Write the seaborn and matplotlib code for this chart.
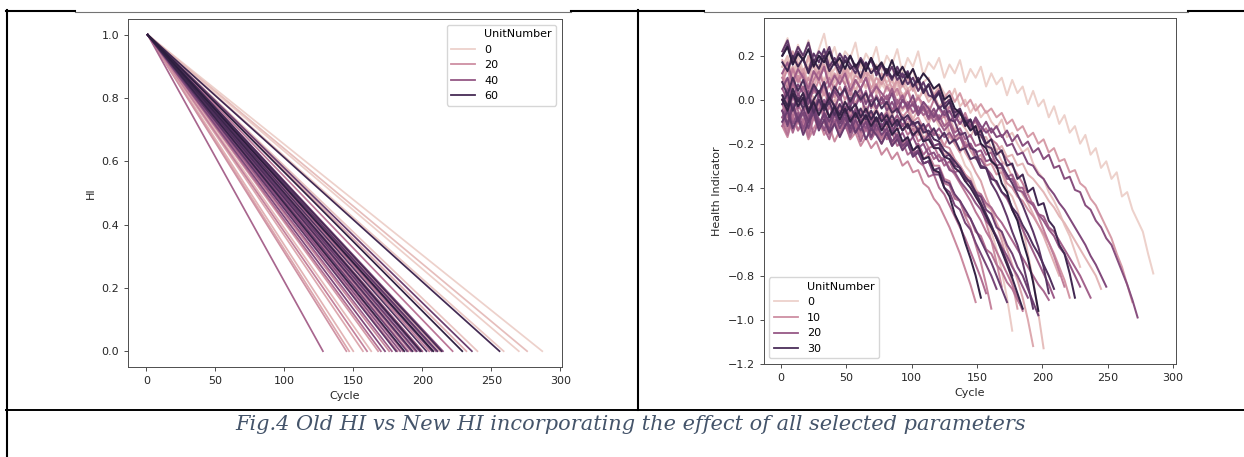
import numpy as np
import pandas as pd
import seaborn as sns
import matplotlib.pyplot as plt
from matplotlib.lines import Line2D
from matplotlib.colors import Normalize

# %% Data

# Old HI: each unit falls linearly from 1 (first cycle) to 0 (last cycle)
old_first_cycle = 1
old_hi_start = 1.0
old_hi_end = 0.0
old_units = [0, 1, 3, 4, 6, 7, 9, 10, 12, 13, 15, 16, 18, 19, 21, 22,
             24, 25, 27, 28, 30, 31, 33, 34, 36, 37, 39, 40, 42, 43, 45, 46,
             48, 49, 51, 52, 54, 55, 57, 58, 60, 61, 63, 64, 66, 67]
old_end_cycle = [287, 270, 259, 240, 276, 163, 150, 232, 157, 147, 200, 168,
                 213, 145, 176, 190, 160, 205, 182, 222, 195, 170, 186, 128,
                 200, 178, 210, 192, 215, 184, 198, 173, 207, 189, 236, 196,
                 181, 211, 203, 193, 214, 256, 199, 187, 229, 208]
old_legend_levels = [0, 20, 40, 60]

new_first_cycle = 1
new_step = 4
new_legend_levels = [0, 10, 20, 30]

hi_u0 = [0.22, 0.28, 0.17, 0.25, 0.19, 0.27, 0.16, 0.23, 0.30, 0.18,
         0.24, 0.15, 0.22, 0.19, 0.26, 0.14, 0.21, 0.17, 0.24, 0.13,
         0.2, 0.16, 0.23, 0.12, 0.19, 0.15, 0.22, 0.11, 0.17, 0.14,
         0.19, 0.1, 0.16, 0.12, 0.18, 0.08, 0.14, 0.1, 0.15, 0.06,
         0.12, 0.07, 0.1, 0.02, 0.09, 0.03, 0.06, -0.02, 0.04, -0.03,
         0.0, -0.08, -0.03, -0.11, -0.07, -0.15, -0.12, -0.2, -0.16, -0.25,
         -0.22, -0.31, -0.28, -0.36, -0.33, -0.44, -0.42, -0.5, -0.55, -0.6,
         -0.7, -0.79]
hi_u1 = [0.12, 0.18, 0.08, 0.15, 0.1, 0.16, 0.06, 0.13, 0.09, 0.14,
         0.05, 0.12, 0.07, 0.11, 0.03, 0.09, 0.05, 0.1, 0.02, 0.07,
         0.04, 0.06, -0.01, 0.03, -0.02, 0.01, -0.06, -0.03, -0.08, -0.07,
         -0.12, -0.11, -0.17, -0.2, -0.24, -0.3, -0.33, -0.4, -0.45, -0.52,
         -0.6, -0.68, -0.78, -0.9, -1.05]
hi_u2 = [0.15, 0.19, 0.11, 0.2, 0.13, 0.09, 0.17, 0.12, 0.21, 0.1,
         0.14, 0.18, 0.08, 0.15, 0.11, 0.17, 0.1, 0.13, 0.16, 0.07,
         0.12, 0.15, 0.06, 0.11, 0.09, 0.14, 0.04, 0.08, 0.1, 0.02,
         0.07, 0.03, -0.01, 0.05, -0.03, 0.0, -0.06, -0.02, -0.08, -0.05,
         -0.1, -0.13, -0.09, -0.17, -0.15, -0.2, -0.24, -0.22, -0.29, -0.33,
         -0.36, -0.42, -0.46, -0.51, -0.57, -0.62, -0.69, -0.76]
hi_u3 = [0.15, 0.2, 0.1, 0.17, 0.12, 0.19, 0.09, 0.16, 0.13, 0.18,
         0.08, 0.15, 0.11, 0.16, 0.07, 0.13, 0.1, 0.14, 0.05, 0.12,
         0.08, 0.1, 0.03, 0.09, 0.05, 0.07, 0.0, 0.05, 0.01, 0.03,
         -0.04, 0.0, -0.06, -0.08, -0.05, -0.12, -0.1, -0.16, -0.14, -0.2,
         -0.24, -0.3, -0.33, -0.41, -0.44, -0.5, -0.58, -0.7, -0.82, -0.97,
         -1.13]
hi_u4 = [0.0, 0.06, -0.03, 0.02, -0.05, 0.04, 0.01, -0.04, 0.05, -0.02,
         0.03, -0.06, 0.0, 0.04, -0.03, -0.07, 0.02, -0.02, -0.05, 0.01,
         -0.04, -0.08, -0.01, -0.05, -0.02, -0.09, -0.04, -0.07, -0.11, -0.05,
         -0.09, -0.12, -0.08, -0.14, -0.1, -0.13, -0.17, -0.12, -0.16, -0.2,
         -0.18, -0.23, -0.21, -0.26, -0.25, -0.3, -0.29, -0.34, -0.36, -0.39,
         -0.42, -0.46, -0.49, -0.53, -0.56, -0.6, -0.64, -0.68, -0.72, -0.76,
         -0.8, -0.86]
hi_u5 = [0.1, 0.16, 0.07, 0.13, 0.09, 0.15, 0.06, 0.12, 0.08, 0.14,
         0.05, 0.11, 0.07, 0.12, 0.04, 0.1, 0.06, 0.11, 0.03, 0.09,
         0.05, 0.09, 0.02, 0.07, 0.03, 0.06, 0.0, 0.04, -0.01, 0.02,
         -0.03, -0.01, -0.06, -0.04, -0.09, -0.08, -0.13, -0.12, -0.17, -0.17,
         -0.22, -0.23, -0.28, -0.3, -0.35, -0.38, -0.43, -0.47, -0.52, -0.57,
         -0.62, -0.68, -0.74, -0.8]
hi_u6 = [0.02, -0.04, 0.05, -0.01, 0.03, -0.05, 0.01, -0.03, 0.04, -0.04,
         0.0, -0.06, -0.01, -0.05, -0.02, -0.08, -0.03, -0.07, -0.04, -0.09,
         -0.05, -0.1, -0.07, -0.12, -0.1, -0.14, -0.12, -0.17, -0.16, -0.21,
         -0.2, -0.25, -0.24, -0.29, -0.3, -0.34, -0.36, -0.41, -0.43, -0.48,
         -0.5, -0.56, -0.61, -0.68, -0.75, -0.82, -0.9, -1.0, -1.12]
hi_u7 = [0.18, 0.13, 0.22, 0.16, 0.12, 0.2, 0.15, 0.1, 0.19, 0.14,
         0.17, 0.09, 0.15, 0.11, 0.16, 0.08, 0.13, 0.1, 0.06, 0.12,
         0.07, 0.03, 0.09, 0.01, 0.05, -0.02, 0.02, -0.05, -0.03, -0.08,
         -0.1, -0.07, -0.15, -0.18, -0.16, -0.24, -0.28, -0.33, -0.37, -0.44,
         -0.5, -0.57, -0.64, -0.73, -0.83, -0.95]
hi_u8 = [0.12, 0.07, 0.15, 0.09, 0.14, 0.06, 0.13, 0.08, 0.16, 0.07,
         0.12, 0.08, 0.14, 0.06, 0.11, 0.09, 0.13, 0.05, 0.1, 0.07,
         0.12, 0.05, 0.09, 0.06, 0.1, 0.04, 0.08, 0.03, 0.07, 0.02,
         0.05, 0.01, 0.04, -0.01, 0.03, -0.03, 0.0, -0.05, -0.02, -0.06,
         -0.04, -0.08, -0.06, -0.11, -0.09, -0.14, -0.12, -0.17, -0.15, -0.2,
         -0.18, -0.24, -0.22, -0.28, -0.27, -0.33, -0.32, -0.38, -0.4, -0.45,
         -0.48, -0.53, -0.58, -0.63, -0.7, -0.76, -0.84, -0.92]
hi_u9 = [-0.05, -0.1, -0.02, -0.08, -0.13, -0.04, -0.09, -0.01, -0.07, -0.12,
         -0.06, -0.03, -0.1, -0.05, -0.12, -0.08, -0.14, -0.06, -0.1, -0.13,
         -0.08, -0.15, -0.1, -0.07, -0.13, -0.11, -0.16, -0.12, -0.18, -0.14,
         -0.17, -0.21, -0.16, -0.2, -0.24, -0.19, -0.23, -0.27, -0.25, -0.3,
         -0.29, -0.34, -0.33, -0.38, -0.4, -0.44, -0.46, -0.5, -0.53, -0.57,
         -0.61, -0.65, -0.7, -0.76, -0.82, -0.9]
hi_u10 = [0.08, 0.14, 0.05, 0.11, 0.04, 0.1, 0.03, 0.09, 0.02, 0.07,
          0.01, 0.06, 0.0, 0.05, -0.02, 0.04, -0.01, 0.03, -0.04, 0.01,
          -0.03, -0.06, -0.02, -0.08, -0.05, -0.1, -0.08, -0.13, -0.11, -0.16,
          -0.16, -0.21, -0.22, -0.27, -0.3, -0.34, -0.38, -0.44, -0.48, -0.56,
          -0.64, -0.74, -0.85]
hi_u11 = [-0.12, -0.17, -0.08, -0.14, -0.1, -0.18, -0.13, -0.09, -0.16, -0.12,
          -0.19, -0.14, -0.11, -0.18, -0.15, -0.21, -0.17, -0.22, -0.19, -0.25,
          -0.22, -0.27, -0.24, -0.3, -0.28, -0.33, -0.32, -0.38, -0.4, -0.45,
          -0.48, -0.53, -0.58, -0.64, -0.7, -0.77, -0.84, -0.92]
hi_u12 = [-0.08, -0.14, -0.04, -0.11, -0.06, -0.15, -0.07, -0.13, -0.05, -0.12,
          -0.09, -0.16, -0.08, -0.14, -0.1, -0.17, -0.09, -0.15, -0.12, -0.18,
          -0.13, -0.2, -0.15, -0.21, -0.17, -0.24, -0.2, -0.27, -0.25, -0.3,
          -0.3, -0.36, -0.37, -0.44, -0.46, -0.53, -0.58, -0.66, -0.74, -0.84,
          -0.95]
hi_u13 = [0.1, 0.05, 0.14, 0.08, 0.12, 0.03, 0.09, 0.13, 0.06, 0.1,
          0.04, 0.11, 0.07, 0.02, 0.09, 0.05, 0.1, 0.03, 0.07, 0.0,
          0.06, 0.02, 0.05, -0.01, 0.04, -0.03, 0.01, -0.02, -0.06, 0.0,
          -0.04, -0.08, -0.03, -0.07, -0.11, -0.06, -0.12, -0.1, -0.15, -0.13,
          -0.18, -0.2, -0.24, -0.27, -0.3, -0.34, -0.38, -0.43, -0.48, -0.53,
          -0.59, -0.65, -0.71, -0.78, -0.85]
hi_u14 = [-0.05, 0.0, -0.08, -0.02, -0.07, 0.01, -0.06, -0.01, -0.09, -0.03,
          -0.08, -0.02, -0.1, -0.04, -0.09, -0.05, -0.11, -0.06, -0.12, -0.07,
          -0.13, -0.09, -0.14, -0.11, -0.16, -0.13, -0.19, -0.17, -0.22, -0.21,
          -0.26, -0.27, -0.31, -0.34, -0.38, -0.42, -0.46, -0.51, -0.55, -0.6,
          -0.64, -0.69, -0.74, -0.79, -0.84, -0.9, -0.96]
hi_u15 = [-0.1, -0.16, -0.07, -0.14, -0.09, -0.17, -0.08, -0.13, -0.1, -0.16,
          -0.09, -0.15, -0.11, -0.17, -0.1, -0.15, -0.12, -0.18, -0.13, -0.17,
          -0.14, -0.2, -0.17, -0.22, -0.2, -0.25, -0.23, -0.29, -0.28, -0.33,
          -0.33, -0.38, -0.39, -0.45, -0.46, -0.52, -0.54, -0.6, -0.62, -0.68,
          -0.7, -0.75, -0.78, -0.83, -0.86, -0.91, -0.95]
hi_u16 = [-0.02, -0.08, 0.02, -0.05, -0.1, -0.03, -0.07, 0.0, -0.06, -0.11,
          -0.04, -0.09, -0.13, -0.07, -0.12, -0.08, -0.14, -0.1, -0.16, -0.12,
          -0.18, -0.15, -0.21, -0.19, -0.25, -0.23, -0.28, -0.3, -0.35, -0.34,
          -0.4, -0.43, -0.48, -0.53, -0.58, -0.63, -0.69, -0.75, -0.81, -0.88]
hi_u17 = [-0.12, -0.06, -0.15, -0.08, -0.14, -0.07, -0.16, -0.09, -0.13, -0.18,
          -0.1, -0.16, -0.11, -0.17, -0.12, -0.19, -0.13, -0.18, -0.14, -0.2,
          -0.15, -0.21, -0.16, -0.22, -0.18, -0.24, -0.2, -0.25, -0.22, -0.27,
          -0.25, -0.3, -0.28, -0.33, -0.32, -0.37, -0.37, -0.42, -0.43, -0.47,
          -0.49, -0.53, -0.56, -0.6, -0.64, -0.68, -0.72, -0.76, -0.8, -0.84,
          -0.87, -0.91]
hi_u18 = [0.05, 0.0, 0.08, 0.02, 0.06, -0.01, 0.05, 0.01, 0.07, -0.02,
          0.04, 0.0, 0.05, -0.03, 0.03, -0.01, 0.04, -0.04, 0.02, -0.02,
          0.02, -0.05, 0.0, -0.04, -0.01, -0.06, -0.03, -0.07, -0.05, -0.1,
          -0.07, -0.12, -0.1, -0.15, -0.13, -0.18, -0.16, -0.21, -0.2, -0.25,
          -0.24, -0.3, -0.29, -0.35, -0.34, -0.4, -0.4, -0.46, -0.47, -0.52,
          -0.53, -0.58, -0.6, -0.64, -0.68, -0.72, -0.76, -0.8, -0.85, -0.9]
hi_u19 = [0.12, 0.17, 0.08, 0.14, 0.1, 0.05, 0.13, 0.09, 0.15, 0.06,
          0.11, 0.07, 0.12, 0.04, 0.09, 0.05, 0.1, 0.02, 0.06, 0.03,
          0.0, 0.05, -0.02, 0.02, -0.05, -0.01, -0.07, -0.04, -0.09, -0.06,
          -0.1, -0.14, -0.11, -0.17, -0.15, -0.21, -0.2, -0.26, -0.27, -0.31,
          -0.34, -0.38, -0.42, -0.45, -0.5, -0.54, -0.59, -0.64, -0.69, -0.74,
          -0.79, -0.84, -0.9]
hi_u20 = [0.0, -0.06, 0.02, -0.04, 0.01, -0.07, -0.01, -0.05, 0.0, -0.08,
          -0.02, -0.06, -0.03, -0.09, -0.04, -0.07, -0.05, -0.1, -0.05, -0.09,
          -0.06, -0.11, -0.07, -0.12, -0.08, -0.12, -0.1, -0.14, -0.11, -0.16,
          -0.13, -0.17, -0.15, -0.19, -0.17, -0.22, -0.2, -0.24, -0.23, -0.28,
          -0.27, -0.31, -0.31, -0.36, -0.36, -0.41, -0.42, -0.46, -0.48, -0.52,
          -0.55, -0.59, -0.62, -0.67, -0.7, -0.75, -0.8, -0.85]
hi_u21 = [-0.08, -0.03, -0.11, -0.06, -0.13, -0.08, -0.02, -0.09, -0.14, -0.07,
          -0.11, -0.05, -0.12, -0.09, -0.15, -0.1, -0.13, -0.08, -0.14, -0.11,
          -0.16, -0.12, -0.18, -0.15, -0.2, -0.17, -0.22, -0.2, -0.25, -0.24,
          -0.28, -0.27, -0.32, -0.33, -0.37, -0.4, -0.43, -0.47, -0.5, -0.55,
          -0.58, -0.62, -0.67, -0.71, -0.76, -0.8, -0.85, -0.9]
hi_u22 = [0.0, 0.05, -0.04, 0.03, -0.02, 0.04, -0.05, 0.02, -0.03, 0.03,
          -0.04, 0.02, -0.06, 0.01, -0.03, 0.02, -0.06, 0.0, -0.04, 0.01,
          -0.05, -0.01, -0.06, 0.0, -0.04, -0.02, -0.07, -0.03, -0.08, -0.04,
          -0.09, -0.05, -0.1, -0.07, -0.11, -0.08, -0.12, -0.09, -0.14, -0.1,
          -0.15, -0.12, -0.17, -0.14, -0.19, -0.16, -0.21, -0.19, -0.24, -0.22,
          -0.27, -0.25, -0.31, -0.3, -0.36, -0.35, -0.41, -0.42, -0.48, -0.5,
          -0.55, -0.58, -0.63, -0.66, -0.72, -0.78, -0.84, -0.91, -0.99]
hi_u23 = [0.05, 0.1, 0.01, 0.07, 0.03, -0.02, 0.06, 0.02, 0.08, -0.01,
          0.04, 0.0, 0.06, -0.03, 0.02, 0.05, -0.02, 0.03, -0.04, 0.01,
          -0.02, 0.03, -0.05, 0.0, -0.03, 0.02, -0.06, -0.01, -0.04, -0.08,
          -0.03, -0.07, -0.05, -0.1, -0.06, -0.09, -0.13, -0.08, -0.12, -0.15,
          -0.13, -0.17, -0.16, -0.21, -0.2, -0.25, -0.24, -0.29, -0.3, -0.34,
          -0.36, -0.4, -0.43, -0.47, -0.5, -0.54, -0.58, -0.62, -0.66, -0.71,
          -0.75, -0.8, -0.85]
hi_u24 = [-0.05, -0.12, -0.03, -0.1, -0.06, -0.13, -0.04, -0.11, -0.07, -0.14,
          -0.06, -0.13, -0.08, -0.15, -0.09, -0.14, -0.1, -0.17, -0.11, -0.16,
          -0.13, -0.19, -0.16, -0.21, -0.19, -0.25, -0.23, -0.29, -0.28, -0.34,
          -0.34, -0.4, -0.42, -0.48, -0.5, -0.56, -0.59, -0.65, -0.7, -0.75,
          -0.8, -0.86]
hi_u25 = [-0.05, -0.11, -0.02, -0.09, -0.04, -0.1, -0.03, -0.12, -0.06, -0.1,
          -0.04, -0.11, -0.06, -0.13, -0.05, -0.1, -0.07, -0.14, -0.08, -0.12,
          -0.09, -0.15, -0.1, -0.14, -0.11, -0.17, -0.13, -0.19, -0.16, -0.21,
          -0.2, -0.26, -0.25, -0.3, -0.31, -0.36, -0.37, -0.43, -0.44, -0.5,
          -0.52, -0.58, -0.6, -0.66, -0.7, -0.76, -0.8, -0.86, -0.92, -0.98]
hi_u26 = [-0.1, -0.05, -0.13, -0.08, -0.16, -0.1, -0.06, -0.14, -0.09, -0.15,
          -0.11, -0.17, -0.12, -0.08, -0.15, -0.11, -0.18, -0.13, -0.16, -0.2,
          -0.15, -0.21, -0.18, -0.23, -0.2, -0.26, -0.24, -0.29, -0.28, -0.32,
          -0.31, -0.37, -0.38, -0.43, -0.46, -0.5, -0.54, -0.59, -0.64, -0.69,
          -0.74, -0.8, -0.86, -0.92]
hi_u27 = [0.22, 0.27, 0.18, 0.24, 0.2, 0.26, 0.17, 0.22, 0.19, 0.24,
          0.16, 0.21, 0.17, 0.2, 0.14, 0.19, 0.15, 0.18, 0.12, 0.16,
          0.11, 0.15, 0.09, 0.12, 0.07, 0.1, 0.04, 0.08, 0.02, 0.01,
          -0.04, -0.02, -0.09, -0.1, -0.16, -0.15, -0.22, -0.23, -0.3, -0.31,
          -0.38, -0.42, -0.47, -0.53, -0.6, -0.66, -0.74, -0.84, -0.95]
hi_u28 = [0.2, 0.25, 0.16, 0.22, 0.18, 0.13, 0.21, 0.17, 0.23, 0.15,
          0.19, 0.14, 0.2, 0.16, 0.12, 0.18, 0.14, 0.19, 0.11, 0.16,
          0.13, 0.09, 0.15, 0.1, 0.13, 0.06, 0.1, 0.04, 0.07, 0.01,
          0.04, -0.02, 0.0, -0.06, -0.04, -0.1, -0.09, -0.15, -0.16, -0.21,
          -0.22, -0.27, -0.3, -0.34, -0.38, -0.43, -0.48, -0.54, -0.6, -0.67,
          -0.76, -0.88]
hi_u29 = [-0.02, 0.03, -0.05, 0.01, -0.04, 0.02, -0.06, 0.0, -0.05, -0.01,
          -0.07, -0.02, -0.06, -0.03, -0.08, -0.04, -0.09, -0.05, -0.1, -0.06,
          -0.11, -0.07, -0.12, -0.08, -0.13, -0.1, -0.14, -0.11, -0.16, -0.13,
          -0.18, -0.15, -0.2, -0.18, -0.23, -0.22, -0.27, -0.26, -0.31, -0.31,
          -0.36, -0.37, -0.42, -0.44, -0.49, -0.52, -0.57, -0.61, -0.66, -0.7,
          -0.75, -0.8, -0.86]
hi_u30 = [0.08, 0.02, 0.1, 0.04, 0.09, 0.01, 0.07, 0.03, 0.08, 0.0,
          0.06, 0.02, 0.05, -0.01, 0.04, 0.0, 0.03, -0.03, 0.01, -0.04,
          -0.01, -0.06, -0.04, -0.09, -0.07, -0.11, -0.1, -0.15, -0.14, -0.18,
          -0.19, -0.23, -0.25, -0.28, -0.31, -0.35, -0.38, -0.42, -0.47, -0.52,
          -0.57, -0.63, -0.68, -0.74, -0.8]
hi_u31 = [0.17, 0.13, 0.2, 0.15, 0.19, 0.12, 0.18, 0.14, 0.2, 0.13,
          0.17, 0.12, 0.18, 0.14, 0.16, 0.1, 0.17, 0.12, 0.15, 0.09,
          0.14, 0.1, 0.13, 0.07, 0.12, 0.06, 0.09, 0.03, 0.07, 0.0,
          0.03, -0.04, -0.01, -0.08, -0.05, -0.12, -0.09, -0.16, -0.14, -0.2,
          -0.18, -0.25, -0.23, -0.3, -0.29, -0.36, -0.34, -0.42, -0.4, -0.48,
          -0.47, -0.55, -0.58, -0.66, -0.7, -0.79, -0.9]
hi_u32 = [0.02, -0.03, 0.05, -0.01, 0.03, -0.05, 0.0, 0.04, -0.04, 0.01,
          -0.03, -0.07, -0.01, -0.05, -0.02, -0.08, -0.04, -0.09, -0.05, -0.1,
          -0.07, -0.12, -0.09, -0.14, -0.11, -0.16, -0.14, -0.19, -0.18, -0.22,
          -0.22, -0.26, -0.27, -0.31, -0.33, -0.37, -0.4, -0.44, -0.48, -0.53,
          -0.58, -0.63, -0.69, -0.75, -0.81, -0.88, -0.95]
hi_u33 = [0.0, -0.05, 0.03, -0.03, 0.01, -0.06, -0.01, -0.07, -0.02, -0.08,
          -0.03, -0.09, -0.04, -0.1, -0.06, -0.11, -0.07, -0.12, -0.08, -0.14,
          -0.1, -0.16, -0.13, -0.19, -0.17, -0.23, -0.21, -0.27, -0.26, -0.32,
          -0.33, -0.4, -0.44, -0.52, -0.57, -0.65, -0.72, -0.8, -0.9]
hi_u34 = [0.2, 0.24, 0.16, 0.21, 0.18, 0.23, 0.15, 0.2, 0.17, 0.22,
          0.16, 0.19, 0.14, 0.2, 0.15, 0.18, 0.13, 0.19, 0.14, 0.17,
          0.12, 0.18, 0.11, 0.15, 0.1, 0.14, 0.08, 0.12, 0.09, 0.05,
          0.07, 0.0, 0.02, -0.04, -0.06, -0.1, -0.14, -0.12, -0.2, -0.22,
          -0.28, -0.3, -0.38, -0.42, -0.5, -0.55, -0.64, -0.72, -0.83, -0.96]

new_hi = [hi_u0, hi_u1, hi_u2, hi_u3, hi_u4, hi_u5, hi_u6, hi_u7, hi_u8,
          hi_u9, hi_u10, hi_u11, hi_u12, hi_u13, hi_u14, hi_u15, hi_u16,
          hi_u17, hi_u18, hi_u19, hi_u20, hi_u21, hi_u22, hi_u23, hi_u24,
          hi_u25, hi_u26, hi_u27, hi_u28, hi_u29, hi_u30, hi_u31, hi_u32,
          hi_u33, hi_u34]
new_units = list(range(len(new_hi)))

str_caption = ('Fig.4 Old HI vs New HI incorporating the effect of all '
               'selected parameters')

# %% Build data frames

lst_rows = []
for unit, end in zip(old_units, old_end_cycle):
    lst_rows.append((unit, old_first_cycle, old_hi_start))
    lst_rows.append((unit, end, old_hi_end))
df_old = pd.DataFrame(lst_rows, columns=['UnitNumber', 'Cycle', 'HI'])

lst_frames = []
for unit, vals in zip(new_units, new_hi):
    ary_cycle = new_first_cycle + new_step * np.arange(len(vals))
    lst_frames.append(pd.DataFrame({'UnitNumber': unit, 'Cycle': ary_cycle,
                                    'Health Indicator': vals}))
df_new = pd.concat(lst_frames, ignore_index=True)

# %% Plot

W, H = 1244, 457
fig = plt.figure(figsize=(W / 100, H / 100), dpi=100)
fig.patch.set_facecolor('white')


def px_box(left, top, right, bottom):
    return [left / W, 1 - bottom / H, (right - left) / W, (bottom - top) / H]


ax1 = fig.add_axes(px_box(128, 19, 562, 367))
ax2 = fig.add_axes(px_box(763.5, 18, 1175.5, 364))

cmap = sns.color_palette('ch:', as_cmap=True)

sns.lineplot(data=df_old, x='Cycle', y='HI', hue='UnitNumber', palette=cmap,
             errorbar=None, linewidth=1.25, legend=False, ax=ax1)
sns.lineplot(data=df_new, x='Cycle', y='Health Indicator', hue='UnitNumber',
             palette=cmap, errorbar=None, linewidth=1.45, legend=False, ax=ax2)
ax2.set_xlim(-13.4, 302)


def add_legend(ax, units, levels, loc):
    # old-style seaborn legend: variable name as the first (blank) entry
    norm = Normalize(min(units), max(units))
    handles = [Line2D([], [], alpha=0)]
    handles += [Line2D([], [], color=cmap(norm(lev)), lw=1.3) for lev in levels]
    labels = ['UnitNumber'] + [str(lev) for lev in levels]
    ax.legend(handles, labels, loc=loc, fontsize=8, handlelength=2.2)


add_legend(ax1, old_units, old_legend_levels, 'upper right')
add_legend(ax2, new_units, new_legend_levels, 'lower left')

for ax in (ax1, ax2):
    ax.tick_params(labelsize=8, length=2.9, width=0.65, colors='0.25',
                   labelcolor='0.15')
    for sp in ax.spines.values():
        sp.set_linewidth(0.7)
        sp.set_color('0.3')
    ax.xaxis.label.set_size(8)
    ax.yaxis.label.set_size(8)
    ax.xaxis.label.set_color('0.15')
    ax.yaxis.label.set_color('0.15')


# table frame of the document
def hline(y, x0, x1, lw, color='black'):
    fig.add_artist(Line2D([x0 / W, x1 / W], [1 - y / H, 1 - y / H],
                          transform=fig.transFigure, lw=lw, color=color))


def vline(x, y0, y1, lw, color='black'):
    fig.add_artist(Line2D([x / W, x / W], [1 - y0 / H, 1 - y1 / H],
                          transform=fig.transFigure, lw=lw, color=color))


hline(11, 6, 75, 1.5)
hline(11.5, 75, 571, 0.8, '0.45')
hline(11, 571, 704, 1.5)
hline(11.5, 704, 1188, 0.8, '0.45')
hline(11, 1188, 1244, 1.5)
hline(410, 6, 1244, 1.4)
vline(7, 10, 457, 1.5)
vline(638.5, 10, 410, 1.5)

fig.text(630.5 / W, 1 - 429.5 / H, str_caption, ha='center', va='baseline',
         fontfamily='DejaVu Serif', style='italic', fontsize=15,
         color='#44546A')

fig.savefig('out.png', dpi=100)
